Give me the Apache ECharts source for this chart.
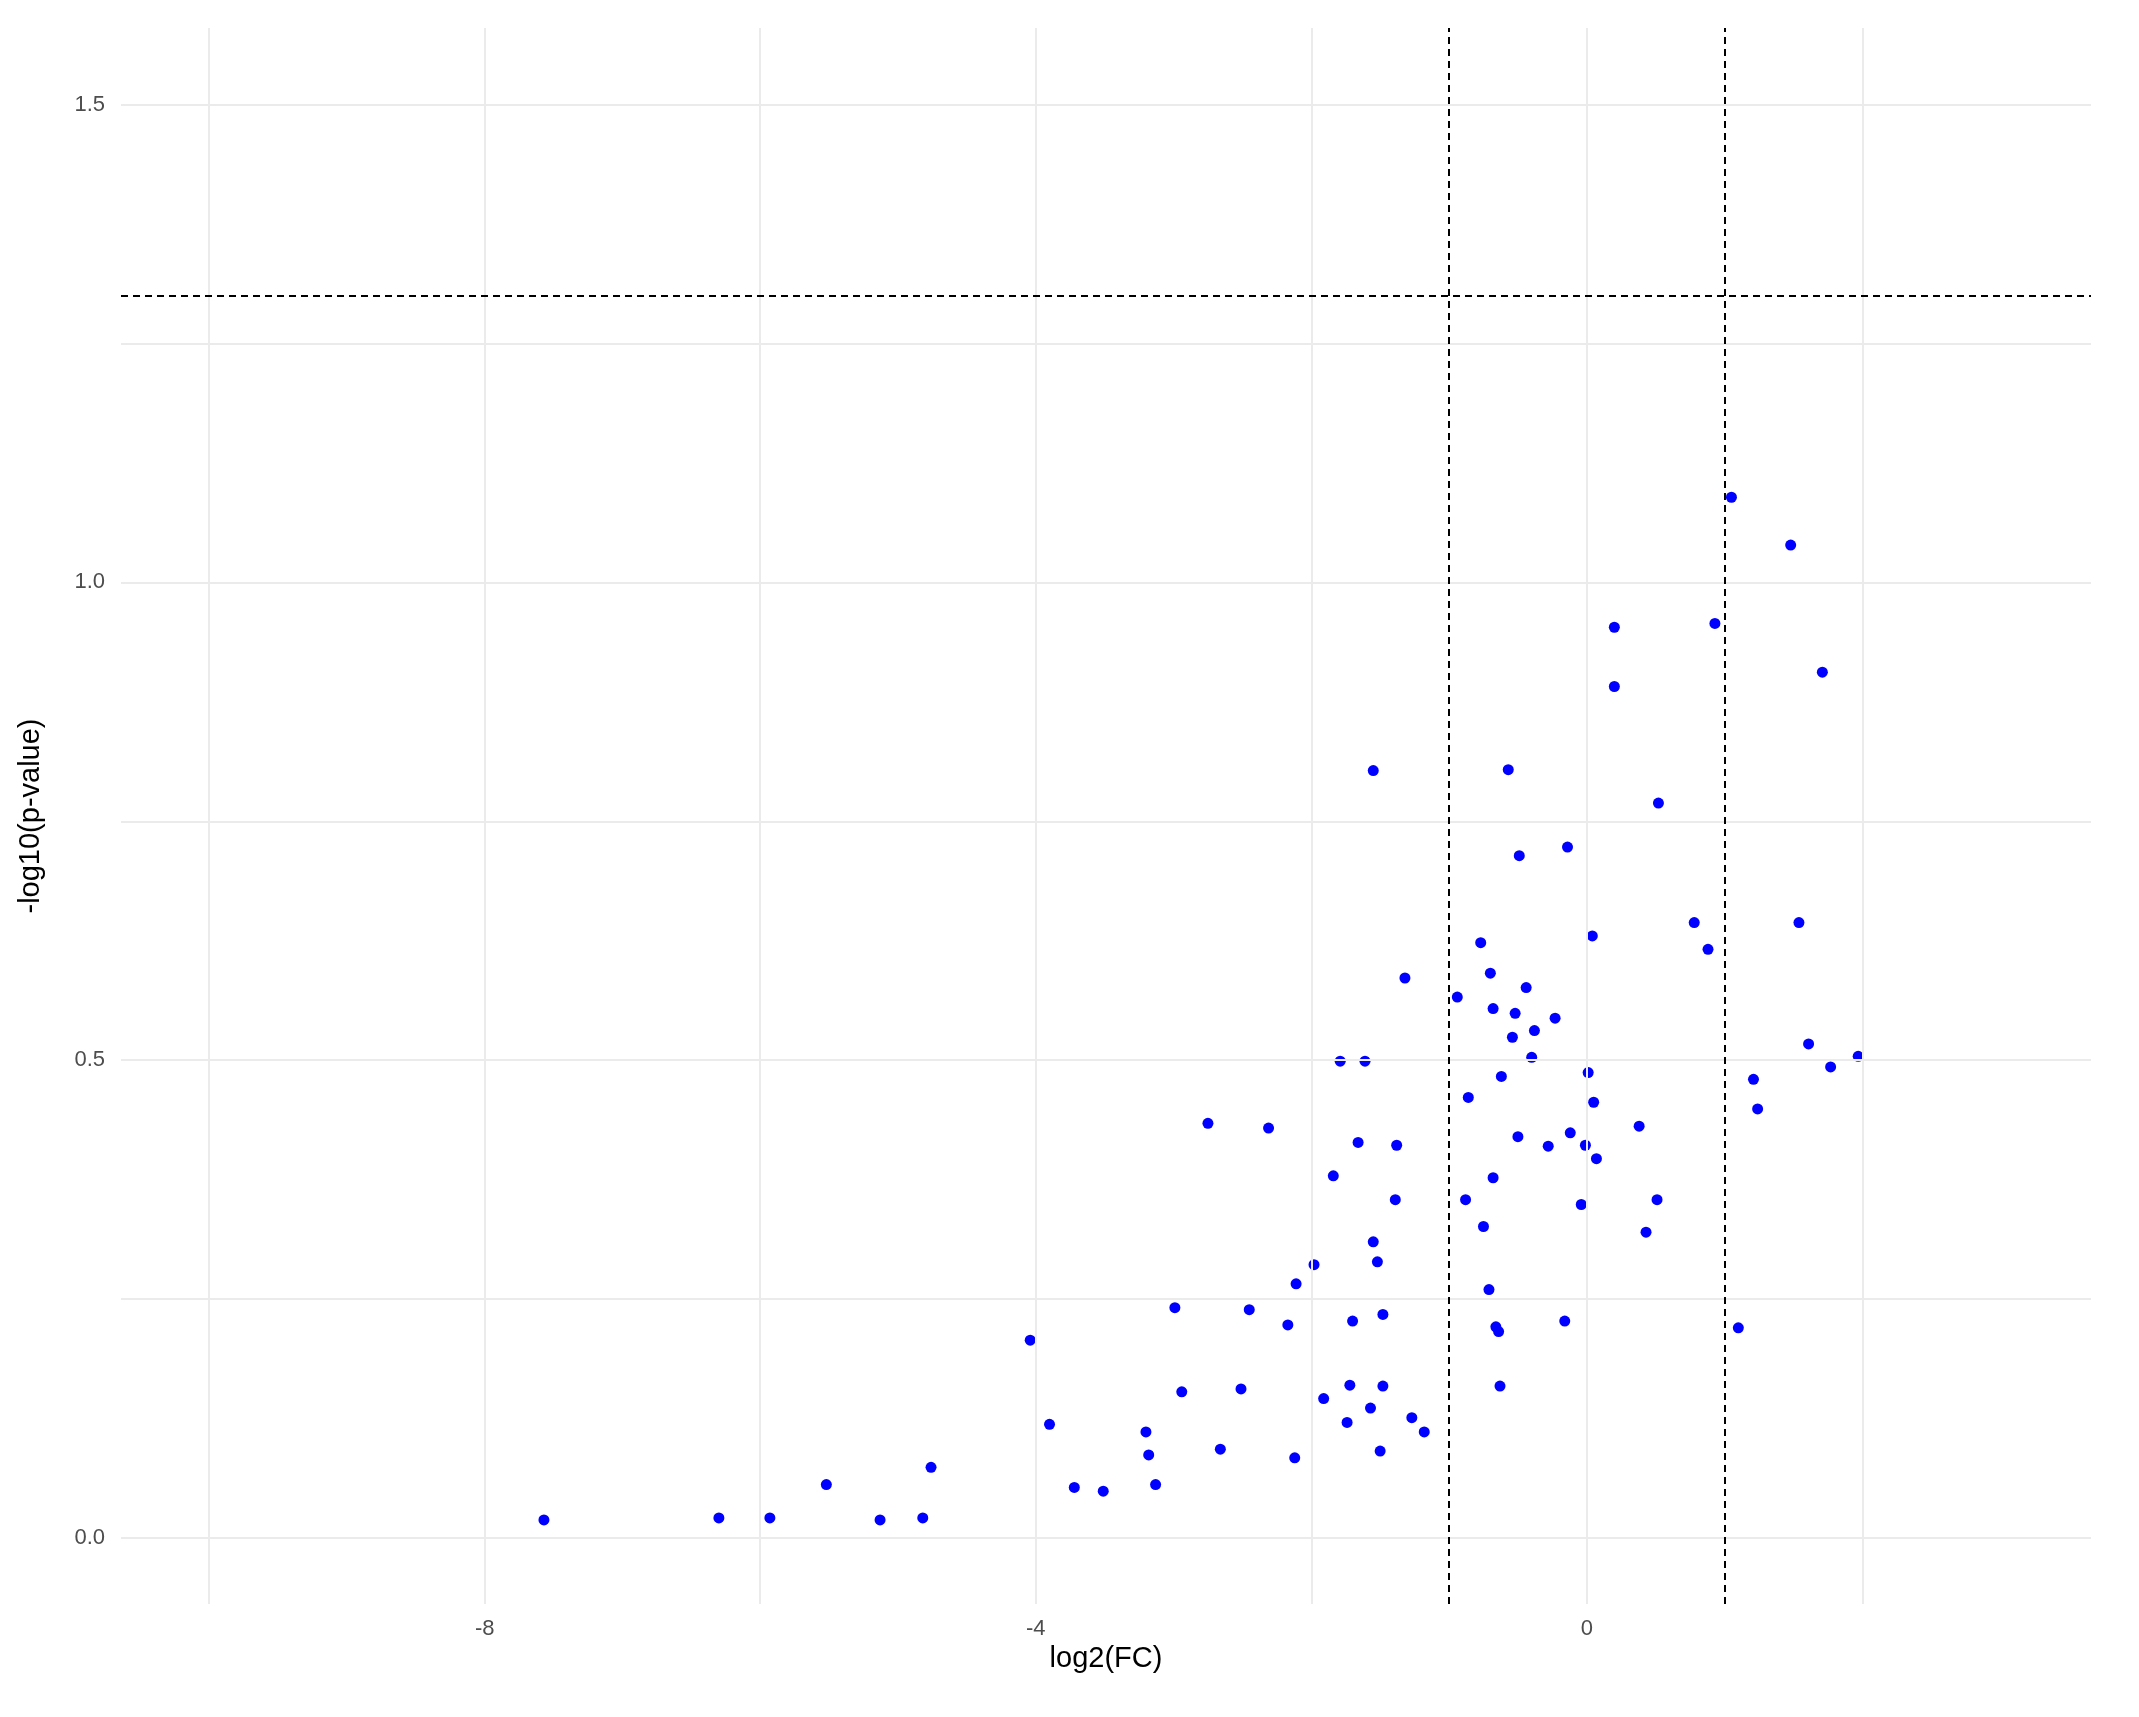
<!DOCTYPE html>
<html>
<head>
<meta charset="utf-8">
<title>volcano</title>
<script src="https://cdn.jsdelivr.net/npm/echarts@6/dist/echarts.min.js"></script>
<style>html,body{margin:0;background:#fff}#main{width:2139px;height:1717px}</style>
</head>
<body>
<div id="main"></div>
<script>
// log2(FC) values
var log2fc = [-7.57,-6.30,-5.93,-5.52,-5.13,-4.82,-4.76,-4.04,-3.90,-3.72,-3.51,-3.20,-3.18,-3.13,-2.99,-2.94,-2.75,-2.66,-2.51,-2.45,
  -2.31,-2.17,-2.12,-2.11,-1.98,-1.91,-1.84,-1.79,-1.74,-1.72,-1.70,-1.66,-1.61,-1.57,-1.55,-1.55,-1.52,-1.50,-1.48,-1.48,
  -1.39,-1.38,-1.32,-1.27,-1.18,-0.94,-0.88,-0.86,-0.77,-0.75,-0.71,-0.70,-0.68,-0.68,-0.66,-0.64,-0.63,-0.62,-0.57,-0.54,
  -0.52,-0.50,-0.49,-0.44,-0.40,-0.38,-0.28,-0.23,-0.16,-0.14,-0.12,-0.04,-0.01,0.01,0.04,0.05,0.07,0.20,0.20,0.38,
  0.43,0.51,0.52,0.78,0.88,0.93,1.05,1.10,1.21,1.24,1.48,1.54,1.61,1.71,1.77,1.97];
// -log10(p-value) values
var negLogP = [0.019,0.021,0.021,0.056,0.019,0.021,0.074,0.207,0.119,0.053,0.049,0.111,0.087,0.056,0.241,0.153,0.434,0.093,0.156,0.239,
  0.429,0.223,0.084,0.266,0.286,0.146,0.379,0.499,0.121,0.160,0.227,0.414,0.499,0.136,0.803,0.310,0.289,0.091,0.234,0.159,
  0.354,0.411,0.586,0.126,0.111,0.566,0.354,0.461,0.623,0.326,0.260,0.591,0.554,0.377,0.221,0.216,0.159,0.483,0.804,0.524,
  0.549,0.420,0.714,0.576,0.503,0.531,0.410,0.544,0.227,0.723,0.424,0.349,0.411,0.487,0.630,0.456,0.397,0.891,0.953,0.431,
  0.320,0.354,0.769,0.644,0.616,0.957,1.089,0.220,0.480,0.449,1.039,0.644,0.517,0.906,0.493,0.504];
var xTickLabels = [-8, -4, 0];
var yTickLabels = [0, 0.5, 1, 1.5];
var xGrid = [-10, -8, -6, -4, -2, 0, 2];
var yGrid = [0, 0.25, 0.5, 0.75, 1, 1.25, 1.5];
var fcCut = [-1, 1];
var pCut = 1.301;

var points = [];
for (var i = 0; i < log2fc.length; i++) points.push([log2fc[i], negLogP[i]]);

var gridLines = [];
xGrid.forEach(function (v) { gridLines.push({xAxis: v}); });
yGrid.forEach(function (v) { gridLines.push({yAxis: v}); });
var cutLines = [{yAxis: pCut}];
fcCut.forEach(function (v) { cutLines.push({xAxis: v}); });

var chart = echarts.init(document.getElementById('main'));
chart.setOption({
  animation: false,
  backgroundColor: '#fff',
  grid: {left: 121, right: 48, top: 28, bottom: 113},
  xAxis: {
    type: 'value', min: -10.64, max: 3.66,
    name: 'log2(FC)', nameLocation: 'middle', nameGap: 40,
    nameTextStyle: {fontSize: 29, color: '#000', fontFamily: 'Liberation Sans'},
    axisLine: {show: false}, axisTick: {show: false}, splitLine: {show: false},
    axisLabel: {customValues: xTickLabels, fontSize: 22, color: '#4d4d4d', margin: 14, fontFamily: 'Liberation Sans'}
  },
  yAxis: {
    type: 'value', min: -0.069, max: 1.58,
    name: '-log10(p-value)', nameLocation: 'middle', nameGap: 76,
    nameTextStyle: {fontSize: 29, color: '#000', fontFamily: 'Liberation Sans'},
    axisLine: {show: false}, axisTick: {show: false}, splitLine: {show: false},
    axisLabel: {customValues: yTickLabels, fontSize: 22, color: '#4d4d4d', margin: 16, fontFamily: 'Liberation Sans',
      formatter: function (v) { return v.toFixed(1); }}
  },
  series: [
    {
      type: 'scatter', data: [], silent: true,
      markLine: {symbol: 'none', silent: true, label: {show: false},
        lineStyle: {color: '#ebebeb', width: 2, type: 'solid'}, data: gridLines}
    },
    {
      type: 'scatter', data: points, symbolSize: 11,
      itemStyle: {color: '#0000ff', opacity: 1},
      markLine: {symbol: 'none', silent: true, label: {show: false}, z: 5,
        lineStyle: {color: '#000', width: 2, type: [7, 5]}, data: cutLines}
    }
  ]
});
</script>
</body>
</html>
